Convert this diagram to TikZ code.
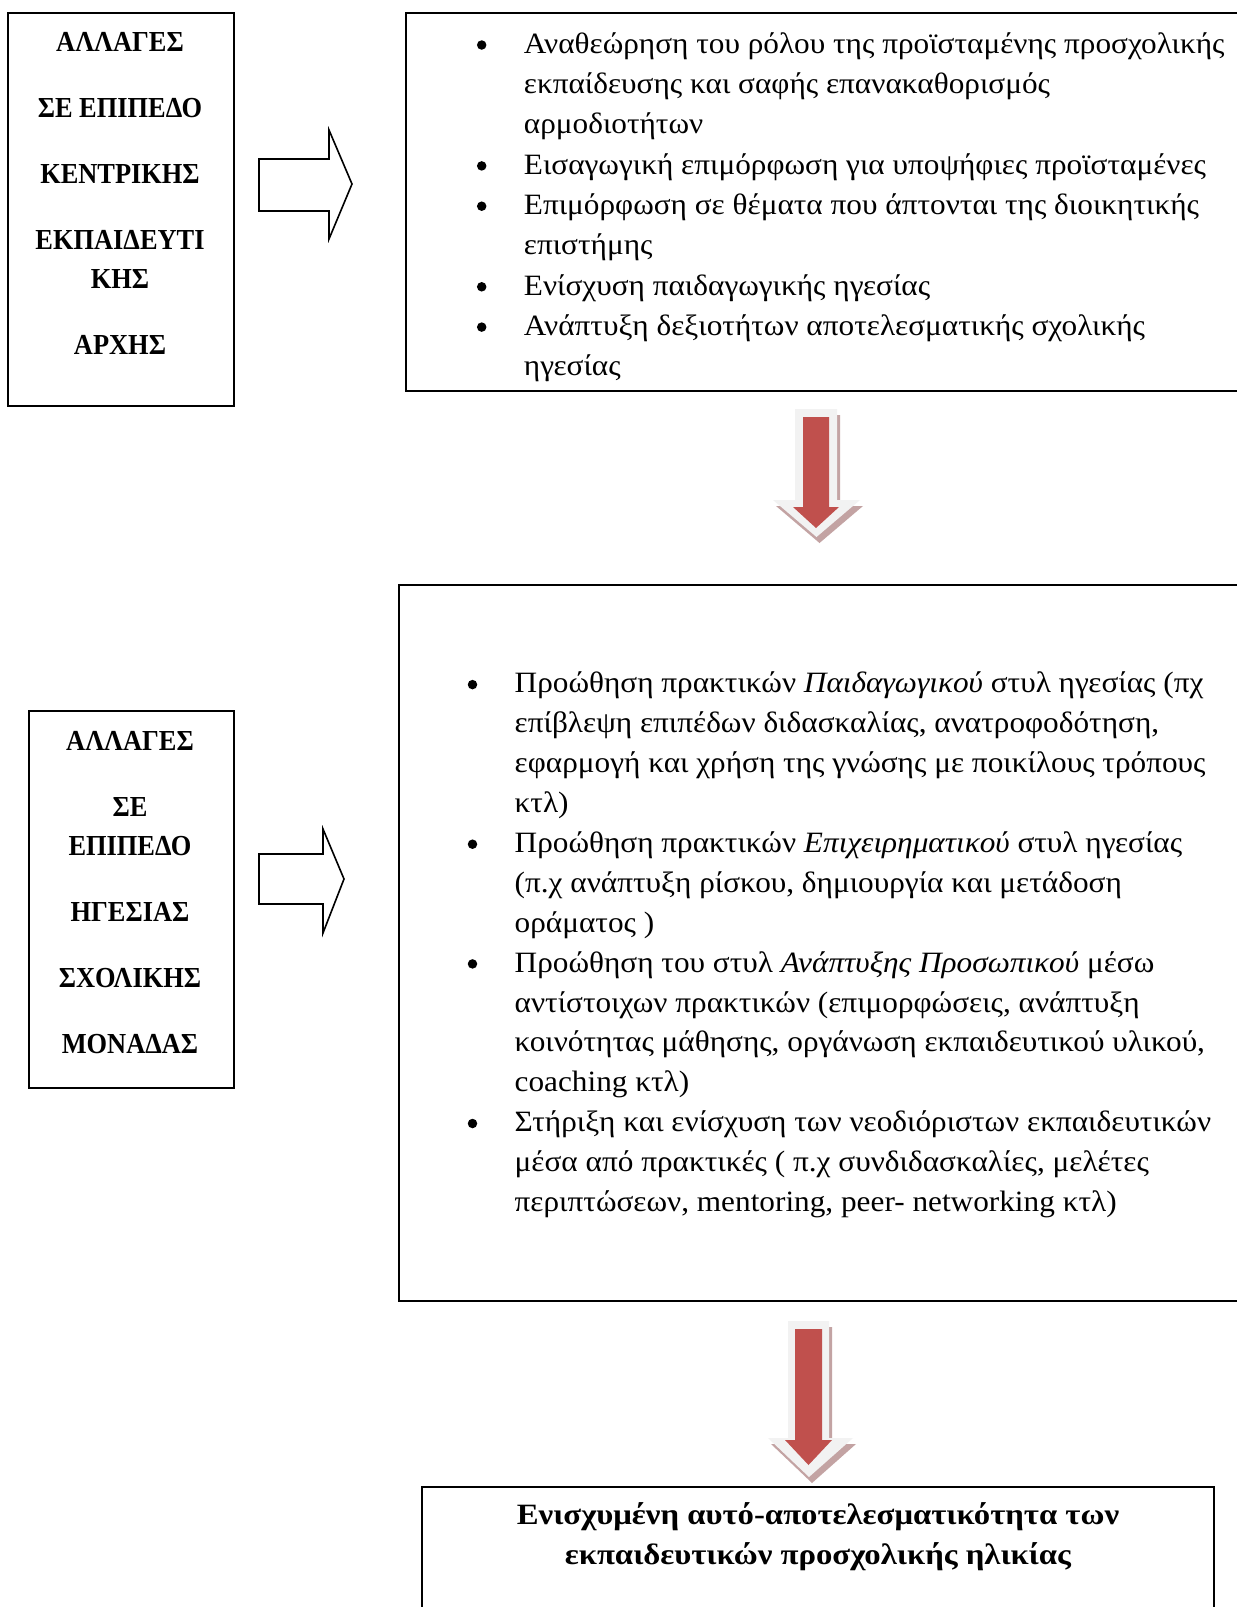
\documentclass[tikz,border=0pt]{standalone}
\usepackage{fontspec}
\setmainfont{Liberation Serif}[FakeStretch=1.06]
\newfontfamily\capsfont{Liberation Serif}[FakeStretch=0.91]
\newfontfamily\finalfont{Liberation Serif}[FakeStretch=1.11]
\definecolor{arrred}{HTML}{C0504D}
\definecolor{arrrim}{HTML}{F2F2F2}
\definecolor{arrshadow}{RGB}{180,140,140}
\begin{document}
\begin{tikzpicture}[x=1pt,y=-1pt]
\tikzset{
  frame/.style={draw=black, line width=2pt, rectangle, inner sep=0pt, anchor=north west},
  hollow/.style={draw=black, line width=1.6pt, fill=white, line join=miter},
  capsbox/.style={font=\capsfont\fontsize{29}{39}\selectfont\bfseries, inner sep=0pt, anchor=north, align=center},
  bodyA/.style={font=\fontsize{29.5}{40.3}\selectfont, inner sep=0pt, anchor=north west, align=left},
  bodyB/.style={font=\fontsize{29.5}{39.9}\selectfont, inner sep=0pt, anchor=north west, align=left},
  bul/.style={circle, fill=black, inner sep=0pt, minimum size=9.5pt},
  final/.style={font=\finalfont\fontsize{29.5}{40.3}\selectfont\bfseries, inner sep=0pt, anchor=north, align=center},
  rim/.style={fill=arrrim},
  redfill/.style={fill=arrred},
  shadowfill/.style={fill=arrshadow, fill opacity=0.8}
}
\useasboundingbox (0,0) rectangle (1237,1607);
\clip (0,0) rectangle (1237,1607);
\fill[white] (0,0) rectangle (1237,1607);

% boxes
\node[frame, minimum width=226pt, minimum height=393pt] (b1) at (7,12) {};
\node[frame, minimum width=845pt, minimum height=378pt] (b2) at (405,12) {};
\node[frame, minimum width=205pt, minimum height=377pt] (b4) at (28,710) {};
\node[frame, minimum width=855pt, minimum height=716pt] (b3) at (398,584) {};
\node[frame, minimum width=792pt, minimum height=160pt] (b5) at (421,1486) {};

% left box texts
\node[capsbox] (t1) at (120,{51.7-27.3}) {\strut ΑΛΛΑΓΕΣ\\[27pt]ΣΕ ΕΠΙΠΕΔΟ\\[27pt]ΚΕΝΤΡΙΚΗΣ\\[27pt]ΕΚΠΑΙΔΕΥΤΙ\\ΚΗΣ\\[27pt]ΑΡΧΗΣ};
\node[capsbox] (t4) at (130,{750.7-27.3}) {\strut ΑΛΛΑΓΕΣ\\[27pt]ΣΕ\\ΕΠΙΠΕΔΟ\\[27pt]ΗΓΕΣΙΑΣ\\[27pt]ΣΧΟΛΙΚΗΣ\\[27pt]ΜΟΝΑΔΑΣ};

% hollow arrows
\draw[hollow] (259,159) -- (329,159) -- (329,130) -- (352,184) -- (329,239) -- (329,211) -- (259,211) -- cycle;
\draw[hollow] (259,854) -- (323,854) -- (323,829) -- (344,879) -- (323,933) -- (323,904) -- (259,904) -- cycle;

% top right list
\node[bul] (p1) at (481.7,{53-8}) {};
\node[bodyA] (q1) at (523.7,{53-28.21}) {\strut Αναθεώρηση του ρόλου της προϊσταμένης προσχολικής\\εκπαίδευσης και σαφής επανακαθορισμός\\αρμοδιοτήτων};
\node[bul] (p2) at (481.7,{173.9-8}) {};
\node[bodyA] (q2) at (523.7,{173.9-28.21}) {\strut Εισαγωγική επιμόρφωση για υποψήφιες προϊσταμένες};
\node[bul] (p3) at (481.7,{214.2-8}) {};
\node[bodyA] (q3) at (523.7,{214.2-28.21}) {\strut Επιμόρφωση σε θέματα που άπτονται της διοικητικής\\επιστήμης};
\node[bul] (p4) at (481.7,{294.8-8}) {};
\node[bodyA] (q4) at (523.7,{294.8-28.21}) {\strut Ενίσχυση παιδαγωγικής ηγεσίας};
\node[bul] (p5) at (481.7,{335.1-8}) {};
\node[bodyA] (q5) at (523.7,{335.1-28.21}) {\strut Ανάπτυξη δεξιοτήτων αποτελεσματικής σχολικής\\ηγεσίας};

% middle list
\node[bul] (r1) at (472.5,{692.6-8}) {};
\node[bodyB] (s1) at (514.5,{692.6-27.93}) {\strut Προώθηση πρακτικών \textit{Παιδαγωγικού} στυλ ηγεσίας (πχ\\επίβλεψη επιπέδων διδασκαλίας, ανατροφοδότηση,\\εφαρμογή και χρήση της γνώσης με ποικίλους τρόπους\\κτλ)};
\node[bul] (r2) at (472.5,{852.2-8}) {};
\node[bodyB] (s2) at (514.5,{852.2-27.93}) {\strut Προώθηση πρακτικών \textit{Επιχειρηματικού} στυλ ηγεσίας\\(π.χ ανάπτυξη ρίσκου, δημιουργία και μετάδοση\\οράματος )};
\node[bul] (r3) at (472.5,{971.9-8}) {};
\node[bodyB] (s3) at (514.5,{971.9-27.93}) {\strut Προώθηση του στυλ \textit{Ανάπτυξης Προσωπικού} μέσω\\αντίστοιχων πρακτικών (επιμορφώσεις, ανάπτυξη\\κοινότητας μάθησης, οργάνωση εκπαιδευτικού υλικού,\\coaching κτλ)};
\node[bul] (r4) at (472.5,{1131.5-8}) {};
\node[bodyB] (s4) at (514.5,{1131.5-27.93}) {\strut Στήριξη και ενίσχυση των νεοδιόριστων εκπαιδευτικών\\μέσα από πρακτικές ( π.χ συνδιδασκαλίες, μελέτες\\περιπτώσεων, mentoring, peer- networking κτλ)};

% red arrows
\fill[shadowfill] (798,415) -- (840,415) -- (840,506) -- (863,506) -- (819.5,543) -- (776,506) -- (798,506) -- cycle;
\fill[rim] (795,409) -- (837,409) -- (837,500) -- (860,500) -- (816.5,537) -- (773,500) -- (795,500) -- cycle;
\fill[redfill] (803,417) -- (829,417) -- (829,507) -- (839,507) -- (816,528) -- (793,507) -- (803,507) -- cycle;

\fill[shadowfill] (791,1327) -- (832,1327) -- (832,1444) -- (856,1444) -- (812,1483) -- (771,1444) -- (791,1444) -- cycle;
\fill[rim] (788,1321) -- (829,1321) -- (829,1438) -- (853,1438) -- (809,1477) -- (768,1438) -- (788,1438) -- cycle;
\fill[redfill] (795,1329) -- (822,1329) -- (822,1440) -- (832,1440) -- (808.5,1465) -- (785,1440) -- (795,1440) -- cycle;

% final text
\node[final] (f) at (818,{1524-28.21}) {\strut Ενισχυμένη αυτό-αποτελεσματικότητα των\\εκπαιδευτικών προσχολικής ηλικίας};
\end{tikzpicture}
\end{document}
